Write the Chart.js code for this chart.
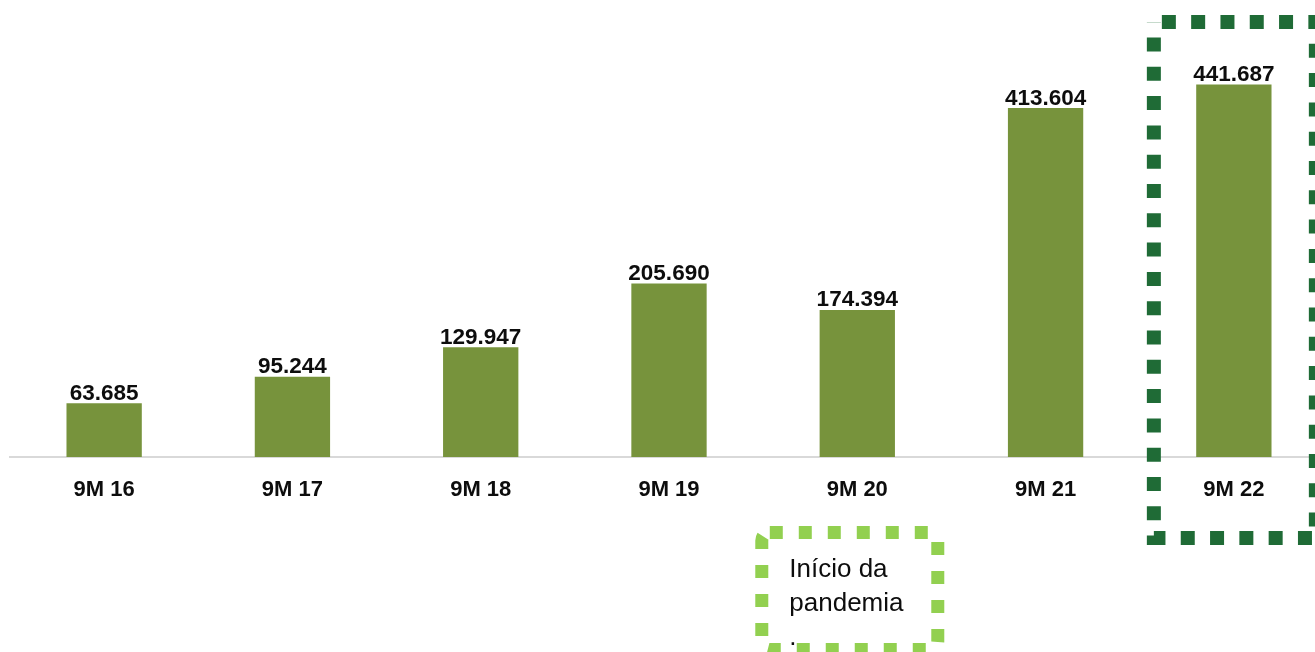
<!DOCTYPE html>
<html>
<head>
<meta charset="utf-8">
<script src="https://cdn.jsdelivr.net/npm/chart.js@4"></script>
<style>
  html, body { margin: 0; padding: 0; background: #ffffff; overflow: hidden; }
  #wrap { width: 1330px; height: 652px; }
</style>
</head>
<body>
<div id="wrap"><canvas id="c" width="1330" height="652"></canvas></div>
<script>
const categories = ['9M 16', '9M 17', '9M 18', '9M 19', '9M 20', '9M 21', '9M 22'];
const values = [63685, 95244, 129947, 205690, 174394, 413604, 441687];
const noteLines = ['Início da', 'pandemia', '.'];

const BAR = '#77933C';
const DARK = '#1F6B36';
const LIGHT = '#92D050';

function fmt(v) {
  return String(Math.round(v)).replace(/\B(?=(\d{3})+(?!\d))/g, '.');
}

const labelPlugin = {
  id: 'barLabels',
  afterDatasetsDraw(chart) {
    const ctx = chart.ctx;
    const meta = chart.getDatasetMeta(0);
    ctx.save();
    ctx.font = 'bold 22.5px "Liberation Sans", Arial, sans-serif';
    ctx.fillStyle = '#0d0d0d';
    ctx.textAlign = 'center';
    ctx.textBaseline = 'alphabetic';
    meta.data.forEach((bar, i) => {
      ctx.fillText(fmt(values[i]), bar.x, bar.y - 3.5);
    });
    ctx.restore();
  }
};

const boxPlugin = {
  id: 'boxes',
  afterDraw(chart) {
    const ctx = chart.ctx;
    const xs = chart.scales.x;
    // dark box around last category
    const c6 = xs.getPixelForValue(6);
    ctx.save();
    ctx.strokeStyle = DARK;
    ctx.lineWidth = 14;
    ctx.setLineDash([14, 15.3]);
    ctx.lineDashOffset = -8;
    ctx.lineCap = 'butt';
    ctx.beginPath();
    ctx.rect(c6 - 80, 22, 162, 516);
    ctx.stroke();
    ctx.restore();

    // light note box below category 4
    const c4 = xs.getPixelForValue(4);
    const L = c4 - 95.5, T = 532.5, W = 176, H = 117;
    ctx.save();
    ctx.font = '26px "Liberation Sans", Arial, sans-serif';
    ctx.fillStyle = '#0d0d0d';
    ctx.textAlign = 'left';
    ctx.textBaseline = 'alphabetic';
    noteLines.forEach((t, i) => ctx.fillText(t, L + 27.5, 577 + i * 34));
    ctx.restore();

    ctx.save();
    ctx.strokeStyle = LIGHT;
    ctx.lineWidth = 13;
    ctx.setLineDash([13, 16]);
    ctx.lineCap = 'butt';
    ctx.beginPath();
    ctx.roundRect(L, T, W, H, 8);
    ctx.stroke();
    ctx.restore();
  }
};

new Chart(document.getElementById('c'), {
  type: 'bar',
  data: {
    labels: categories,
    datasets: [{
      data: values,
      backgroundColor: BAR,
      borderWidth: 0,
      barPercentage: 0.4,
      categoryPercentage: 1.0
    }]
  },
  options: {
    responsive: false,
    animation: false,
    events: [],
    layout: { padding: { left: 10, right: 2, top: 20, bottom: 0 } },
    plugins: { legend: { display: false }, tooltip: { enabled: false } },
    scales: {
      x: {
        grid: { display: false, drawTicks: false },
        border: { display: true, color: '#D9D9D9', width: 2 },
        ticks: {
          color: '#0d0d0d',
          font: { family: '"Liberation Sans", Arial, sans-serif', size: 22, weight: 'bold' },
          padding: 20
        },
        afterFit(scale) { scale.height = 195; }
      },
      y: {
        display: false,
        min: 0,
        max: 518000
      }
    }
  },
  plugins: [labelPlugin, boxPlugin]
});
</script>
</body>
</html>
